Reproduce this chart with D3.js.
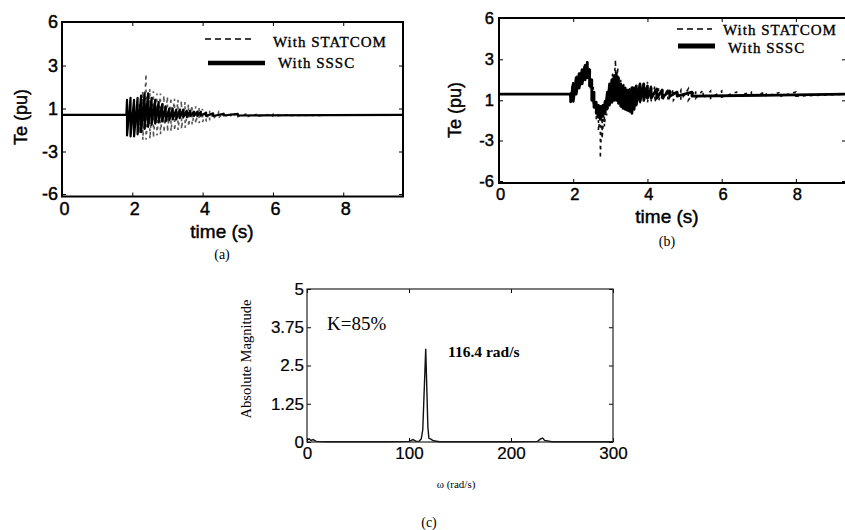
<!DOCTYPE html>
<html>
<head>
<meta charset="utf-8">
<script src="https://cdn.jsdelivr.net/npm/d3@7"></script>
<style>
  body { margin: 0; background: #fff; }
  svg { display: block; }
</style>
</head>
<body>
<div id="chart"></div>
<script>
// tick labels shared by both Te plots (the scan spaces them evenly)
const teTicks = [-6, -3, 1, 3, 6];
const timeTicks = [0, 2, 4, 6, 8];

// panel (a): [time s, upper Te, lower Te]
const ssscA = [
  [0, 0.4, 0.4], [1.83, 0.4, 0.4], [1.85, 1.4, -1.5], [1.95, 1.5, -1.6], [2.05, 1.4, -1.6],
  [2.15, 1.5, -1.4], [2.25, 1.6, -1.2], [2.35, 1.7, -0.9], [2.45, 1.7, -0.7], [2.55, 1.5, -0.5],
  [2.65, 1.4, -0.4], [2.75, 1.3, -0.3], [2.85, 1.2, -0.2], [2.95, 1.1, -0.2], [3.05, 1.0, -0.1],
  [3.15, 1.0, 0.0], [3.25, 0.9, 0.0], [3.35, 0.9, 0.1], [3.45, 0.9, 0.2], [3.55, 0.8, 0.2],
  [3.65, 0.8, 0.3], [3.75, 0.7, 0.3], [3.85, 0.7, 0.3], [3.95, 0.7, 0.35], [4.1, 0.6, 0.3],
  [4.3, 0.55, 0.3], [4.6, 0.5, 0.35], [5.0, 0.5, 0.35], [9.7, 0.4, 0.4]
];
const statcomA = [
  [0, 0.4, 0.4], [2.15, 0.4, 0.4], [2.2, 1.2, -1.3], [2.3, 1.8, -1.9], [2.39, 2.6, -1.9],
  [2.5, 1.9, -1.8], [2.6, 1.8, -1.7], [2.7, 1.7, -1.5], [2.8, 1.7, -1.4], [2.9, 1.6, -1.2],
  [3.0, 1.55, -1.15], [3.1, 1.5, -1.1], [3.2, 1.45, -1.05], [3.3, 1.4, -1.0], [3.4, 1.35, -0.9],
  [3.5, 1.3, -0.8], [3.6, 1.2, -0.65], [3.7, 1.15, -0.5], [3.8, 1.1, -0.4], [3.9, 1.05, -0.35],
  [4.0, 0.95, -0.25], [4.1, 0.85, -0.2], [4.2, 0.8, -0.1], [4.3, 0.7, 0.0], [4.45, 0.65, 0.1],
  [4.6, 0.6, 0.15], [4.8, 0.6, 0.2], [5.0, 0.55, 0.25], [5.3, 0.55, 0.25], [5.6, 0.5, 0.3],
  [6.0, 0.5, 0.3], [6.5, 0.45, 0.35], [9.7, 0.4, 0.4]
];

// panel (b)
const ssscB = [
  [0, 1.3, 1.3], [1.92, 1.3, 1.3], [1.93, 1.1, 0.85], [2.0, 1.8, 0.9], [2.08, 2.1, 1.3],
  [2.16, 2.3, 1.6], [2.24, 2.5, 1.8], [2.32, 2.7, 2.0], [2.38, 2.85, 2.1], [2.44, 2.5, 1.7],
  [2.5, 2.0, 1.0], [2.56, 1.4, 0.3], [2.62, 0.8, -0.3], [2.68, 0.5, -0.7], [2.74, 0.4, -0.75],
  [2.8, 0.5, -0.6], [2.86, 0.9, -0.2], [2.92, 1.4, 0.2], [2.98, 1.8, 0.6], [3.04, 2.0, 0.8],
  [3.1, 2.2, 1.0], [3.16, 2.3, 1.0], [3.22, 2.1, 0.7], [3.28, 1.8, 0.4], [3.34, 1.7, 0.2],
  [3.4, 1.6, 0.1], [3.46, 1.5, 0.0], [3.52, 1.5, -0.1], [3.58, 1.6, -0.3], [3.64, 1.6, 0.1],
  [3.7, 1.7, 0.6], [3.8, 1.8, 0.9], [3.9, 1.8, 1.0], [4.0, 1.7, 1.1], [4.1, 1.6, 1.1],
  [4.25, 1.55, 1.1], [4.4, 1.5, 1.15], [4.6, 1.45, 1.2], [4.8, 1.4, 1.2], [5.2, 1.4, 1.2],
  [9.4, 1.3, 1.3]
];
const statcomB = [
  [0, 1.3, 1.3], [1.92, 1.3, 1.3], [2.0, 1.9, 1.0], [2.1, 2.2, 1.4], [2.2, 2.4, 1.7],
  [2.3, 2.7, 2.0], [2.38, 2.9, 2.2], [2.46, 2.4, 1.5], [2.54, 1.6, 0.4], [2.62, 0.6, -1.0],
  [2.68, 0.2, -2.0], [2.73, -0.5, -4.3], [2.78, 0.0, -2.8], [2.84, 0.5, -1.6], [2.9, 1.0, -0.5],
  [2.98, 1.7, 0.3], [3.06, 2.3, 0.8], [3.14, 2.97, 1.2], [3.2, 2.6, 0.8], [3.28, 2.0, 0.4],
  [3.36, 1.8, 0.1], [3.44, 1.6, 0.0], [3.52, 1.6, -0.2], [3.6, 1.7, 0.0], [3.7, 1.8, 0.4],
  [3.8, 1.8, 0.7], [3.9, 1.8, 0.9], [4.0, 1.9, 0.8], [4.1, 1.8, 0.9], [4.2, 1.7, 0.8],
  [4.3, 1.6, 0.9], [4.4, 1.6, 0.9], [4.55, 1.6, 0.9], [4.7, 1.55, 1.0], [4.9, 1.5, 1.0],
  [5.1, 1.55, 1.0], [5.3, 1.5, 1.1], [5.5, 1.5, 1.1], [5.7, 1.45, 1.1], [6.0, 1.45, 1.15],
  [6.4, 1.4, 1.2], [6.8, 1.4, 1.2], [7.2, 1.4, 1.2], [7.6, 1.4, 1.2], [8.0, 1.4, 1.2],
  [9.4, 1.3, 1.3]
];

// panel (c): FFT magnitude, [omega rad/s, |X|]
const omegaTicks = [0, 100, 200, 300];
const magTicks = [0, 1.25, 2.5, 3.75, 5];
const spectrum = [
  [0, 0.06], [2, 0.1], [4, 0.05], [6, 0.08], [9, 0.02], [20, 0.01], [50, 0.01], [80, 0.01],
  [100, 0.02], [104, 0.08], [107, 0.02], [110, 0.03], [112, 0.1], [113.5, 0.4], [116.4, 3.05],
  [118.5, 0.5], [119.5, 0.12], [121, 0.1], [124, 0.04], [130, 0.01], [200, 0.01], [226, 0.02],
  [229, 0.1], [231, 0.13], [233, 0.05], [240, 0.01], [300, 0.01]
];

const sans = "'Liberation Sans', Arial, sans-serif";
const serif = "'Liberation Serif', 'Times New Roman', serif";
const plain = d => String(d);   // keep the hyphen minus of the original

const svg = d3.select("#chart").append("svg")
    .attr("width", 845)
    .attr("height", 530)
    .style("background", "#fff");

// each sample becomes a vertical stroke upper->lower, joined to the next one
const zig = rows => rows.flatMap(r => [[r[0], r[1]], [r[0], r[2]]]);

// the scan makes every label a bit heavy
const heavy = (sel, w) => sel.attr("stroke", "#000").attr("stroke-width", w);

function tePanel(p) {
  const x = d3.scaleLinear().domain([0, p.tMax]).range([p.left, p.right]);
  const y = d3.scaleLinear().domain(teTicks).range(p.yStops);
  const top = p.yStops[4], bottom = p.boxBottom;
  const g = svg.append("g");

  g.append("clipPath").attr("id", p.id)
    .append("rect")
      .attr("x", p.left).attr("y", top)
      .attr("width", p.right - p.left).attr("height", bottom - top);

  const line = d3.line().x(d => x(d[0])).y(d => y(d[1]));
  const plot = g.append("g").attr("clip-path", `url(#${p.id})`);
  plot.append("path")
      .attr("d", line(zig(p.statcom)))
      .attr("fill", "none")
      .attr("stroke", p.dashColor)
      .attr("stroke-width", 1.6)
      .attr("stroke-dasharray", "3,4");
  plot.append("path")
      .attr("d", line(zig(p.sssc)))
      .attr("fill", "none")
      .attr("stroke", "#000")
      .attr("stroke-width", p.ssscW)
      .attr("stroke-linejoin", "round");

  const style = sel => sel
      .attr("font-family", sans)
      .attr("font-size", p.fs)
      .call(s => s.select(".domain").remove())
      .call(s => heavy(s.selectAll("text"), 0.45));

  g.append("g").attr("transform", `translate(${p.left},0)`)
      .call(d3.axisLeft(y).tickValues(teTicks).tickFormat(plain).tickSizeInner(-4).tickSizeOuter(0).tickPadding(p.yPad))
      .call(style);
  g.append("g").attr("transform", `translate(${p.right},0)`)
      .call(d3.axisRight(y).tickValues(teTicks).tickSizeInner(-4).tickSizeOuter(0).tickFormat(""))
      .call(style);
  g.append("g").attr("transform", `translate(0,${bottom})`)
      .call(d3.axisBottom(x).tickValues(timeTicks).tickFormat(plain).tickSizeInner(-4).tickSizeOuter(0).tickPadding(p.xPad))
      .call(style)
      .call(s => s.selectAll(".tick text").attr("dx", p.xShift));
  g.append("g").attr("transform", `translate(0,${top})`)
      .call(d3.axisTop(x).tickValues(timeTicks).tickSizeInner(-4).tickSizeOuter(0).tickFormat(""))
      .call(style);

  g.append("rect")
      .attr("x", p.left).attr("y", top)
      .attr("width", p.right - p.left).attr("height", bottom - top)
      .attr("fill", "none").attr("stroke", "#000").attr("stroke-width", 2);

  g.append("text")
      .attr("x", p.timeX).attr("y", p.timeY)
      .attr("text-anchor", "middle")
      .attr("font-family", sans).attr("font-size", 19)
      .call(heavy, 0.45)
      .text("time (s)");
  g.append("text")
      .attr("transform", `translate(${p.teX},${p.teY}) rotate(-90)`)
      .attr("text-anchor", "middle")
      .attr("font-family", sans).attr("font-size", 18)
      .call(heavy, 0.45)
      .text("Te (pu)");
  g.append("text")
      .attr("x", p.timeX).attr("y", p.capY)
      .attr("text-anchor", "middle")
      .attr("font-family", serif).attr("font-size", 14)
      .text(p.caption);

  // legend
  const lg = g.append("g").attr("font-family", serif).attr("font-size", 15).attr("letter-spacing", 1);
  lg.append("line")
      .attr("x1", p.leg.dash[0]).attr("x2", p.leg.dash[1])
      .attr("y1", p.leg.dash[2]).attr("y2", p.leg.dash[2])
      .attr("stroke", "#000").attr("stroke-width", 1.6).attr("stroke-dasharray", "6,4");
  lg.append("text").attr("x", p.leg.dash[3]).attr("y", p.leg.dash[4])
      .call(heavy, 0.35).text("With STATCOM");
  lg.append("line")
      .attr("x1", p.leg.solid[0]).attr("x2", p.leg.solid[1])
      .attr("y1", p.leg.solid[2]).attr("y2", p.leg.solid[2])
      .attr("stroke", "#000").attr("stroke-width", p.leg.solidW);
  lg.append("text").attr("x", p.leg.solid[3]).attr("y", p.leg.solid[4])
      .call(heavy, 0.35).text("With SSSC");
}

tePanel({
  id: "clipA", tMax: 9.7, left: 62, right: 403,
  yStops: [194, 151.5, 108.5, 65.5, 22], boxBottom: 196.5,
  sssc: ssscA, statcom: statcomA, dashColor: "#555", ssscW: 2.2,
  fs: 18, yPad: 4, xPad: 6, xShift: 2,
  timeX: 222, timeY: 238, teX: 27, teY: 117, capY: 259, caption: "(a)",
  leg: { dash: [205, 255, 39, 273, 46.5], solid: [208, 265, 63, 278, 68], solidW: 4.5 }
});

tePanel({
  id: "clipB", tMax: 9.35, left: 499, right: 846,
  yStops: [181, 140.5, 100.3, 59.3, 18], boxBottom: 183,
  sssc: ssscB, statcom: statcomB, dashColor: "#111", ssscW: 2.8,
  fs: 16.5, yPad: 5, xPad: 5, xShift: 1,
  timeX: 667, timeY: 223, teX: 461, teY: 110, capY: 246, caption: "(b)",
  leg: { dash: [677, 712, 29, 723, 35], solid: [678, 715, 46, 728, 52.5], solidW: 5 }
});

// panel (c)
const cx = d3.scaleLinear().domain([0, 300]).range([307, 613]);
const cy = d3.scaleLinear().domain([0, 5]).range([442, 289]);
const gc = svg.append("g");

gc.append("path")
    .attr("d", d3.line().x(d => cx(d[0])).y(d => cy(d[1]))(spectrum))
    .attr("fill", "none")
    .attr("stroke", "#111")
    .attr("stroke-width", 1.4);

const cStyle = sel => sel
    .attr("font-family", sans)
    .attr("font-size", 17)
    .call(s => s.select(".domain").remove())
    .call(s => heavy(s.selectAll("text"), 0.2));

gc.append("g").attr("transform", "translate(307,0)")
    .call(d3.axisLeft(cy).tickValues(magTicks).tickFormat(plain).tickSizeInner(-4).tickSizeOuter(0).tickPadding(3))
    .call(cStyle);
gc.append("g").attr("transform", "translate(613,0)")
    .call(d3.axisRight(cy).tickValues(magTicks).tickSizeInner(-4).tickSizeOuter(0).tickFormat(""))
    .call(cStyle);
gc.append("g").attr("transform", "translate(0,442)")
    .call(d3.axisBottom(cx).tickValues(omegaTicks).tickFormat(plain).tickSizeInner(-4).tickSizeOuter(0).tickPadding(5))
    .call(cStyle);
gc.append("g").attr("transform", "translate(0,289)")
    .call(d3.axisTop(cx).tickValues(omegaTicks).tickSizeInner(-4).tickSizeOuter(0).tickFormat(""))
    .call(cStyle);

gc.append("rect")
    .attr("x", 307).attr("y", 289).attr("width", 306).attr("height", 153)
    .attr("fill", "none").attr("stroke", "#222").attr("stroke-width", 1.2);

gc.append("text")
    .attr("transform", "translate(251,359) rotate(-90)")
    .attr("text-anchor", "middle")
    .attr("font-family", serif).attr("font-size", 14.5)
    .text("Absolute Magnitude");
gc.append("text")
    .attr("x", 327).attr("y", 330)
    .attr("font-family", serif).attr("font-size", 19)
    .text("K=85%");
gc.append("text")
    .attr("x", 448).attr("y", 357)
    .attr("font-family", serif).attr("font-size", 15.5).attr("font-weight", "bold")
    .text("116.4 rad/s");
gc.append("text")
    .attr("x", 456).attr("y", 488)
    .attr("text-anchor", "middle")
    .attr("font-family", serif).attr("font-size", 11)
    .text("ω (rad/s)");
gc.append("text")
    .attr("x", 429).attr("y", 527)
    .attr("text-anchor", "middle")
    .attr("font-family", serif).attr("font-size", 14)
    .text("(c)");
</script>
</body>
</html>
